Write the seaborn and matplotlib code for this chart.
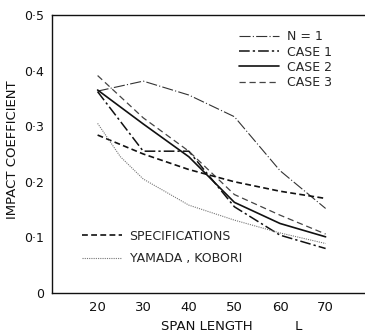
import matplotlib
matplotlib.use("Agg")
import matplotlib.pyplot as plt
import seaborn as sns
from matplotlib.lines import Line2D

# ---- data ----
span = [20, 30, 40, 50, 60, 70]
n1 = [0.363, 0.381, 0.356, 0.317, 0.220, 0.152]
case1 = [0.362, 0.255, 0.255, 0.155, 0.104, 0.080]
case2 = [0.365, 0.304, 0.245, 0.163, 0.125, 0.101]
case3 = [0.391, 0.315, 0.255, 0.177, 0.140, 0.106]
spec = [0.284, 0.250, 0.222, 0.200, 0.183, 0.170]
yk_span = [20, 25, 30, 40, 50, 60, 70]
yk = [0.305, 0.245, 0.205, 0.158, 0.131, 0.108, 0.089]

yticks = [0, 0.1, 0.2, 0.3, 0.4, 0.5]
ytick_labels = ["0", "0·1", "0·2", "0·3", "0·4", "0·5"]
xticks = [20, 30, 40, 50, 60, 70]

sns.set_style("white")
plt.rcParams['font.family'] = ['DejaVu Sans']

fig = plt.figure(figsize=(3.65, 3.32), dpi=100)
ax = fig.add_axes([0.1425, 0.1175, 0.857, 0.8375])

styles = {
    "N = 1": dict(color="#333333", lw=0.8, linestyle=(0, (10, 2, 1, 2))),
    "CASE 1": dict(color="#111111", lw=1.1, linestyle=(0, (7, 2, 1.5, 2))),
    "CASE 2": dict(color="#111111", lw=1.2, linestyle="-"),
    "CASE 3": dict(color="#444444", lw=0.9, linestyle=(0, (5, 3))),
    "SPECIFICATIONS": dict(color="#111111", lw=1.2, linestyle=(0, (3.5, 2))),
    "YAMADA , KOBORI": dict(color="#777777", lw=0.8, linestyle=(0, (1, 1))),
}

sns.lineplot(x=span, y=n1, ax=ax, **styles["N = 1"])
sns.lineplot(x=span, y=case1, ax=ax, **styles["CASE 1"])
sns.lineplot(x=span, y=case2, ax=ax, **styles["CASE 2"])
sns.lineplot(x=span, y=case3, ax=ax, **styles["CASE 3"])
sns.lineplot(x=span, y=spec, ax=ax, **styles["SPECIFICATIONS"])
sns.lineplot(x=yk_span, y=yk, ax=ax, **styles["YAMADA , KOBORI"])

ax.set_xlim(10, 78.6)
ax.set_ylim(0, 0.5)
ax.set_xticks(xticks)
ax.set_yticks(yticks)
ax.set_yticklabels(ytick_labels)
ax.tick_params(axis="both", direction="in", length=3, width=0.8,
               colors="#111111")
ax.tick_params(axis="x", pad=6, labelsize=9.5)
ax.tick_params(axis="y", pad=6, labelsize=9)

for s in ["left", "bottom", "top"]:
    ax.spines[s].set_color("#111111")
    ax.spines[s].set_linewidth(1.0)
ax.spines["right"].set_visible(False)

ax.set_xlabel("SPAN LENGTH          L", fontsize=9.5, color="#111111")
ax.xaxis.set_label_coords(0.575, -0.098)
ax.set_ylabel("IMPACT COEFFICIENT", fontsize=9.5, color="#111111")
ax.yaxis.set_label_coords(-0.104, 0.515)

top_names = ["N = 1", "CASE 1", "CASE 2", "CASE 3"]
h1 = [Line2D([], [], **styles[n]) for n in top_names]
leg1 = ax.legend(h1, top_names, loc="upper right", bbox_to_anchor=(0.93, 0.985),
                 frameon=False, fontsize=9, handlelength=3.2, handletextpad=0.6,
                 labelspacing=0.18)
ax.add_artist(leg1)

bot_names = ["SPECIFICATIONS", "YAMADA , KOBORI"]
h2 = [Line2D([], [], **styles[n]) for n in bot_names]
ax.legend(h2, bot_names, loc="lower left", bbox_to_anchor=(0.06, 0.06),
          frameon=False, fontsize=9, handlelength=3.2, handletextpad=0.6,
          labelspacing=0.75)

fig.savefig("out.png", dpi=100)
